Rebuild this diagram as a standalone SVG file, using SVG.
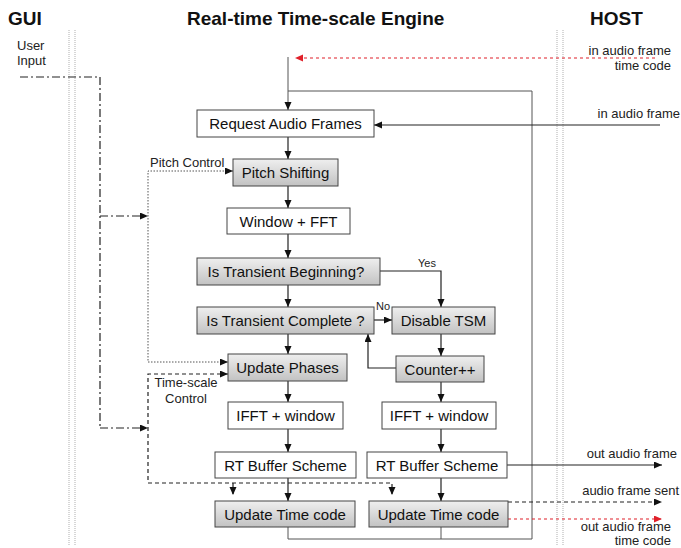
<svg xmlns="http://www.w3.org/2000/svg" width="681" height="548" viewBox="0 0 681 548">
  <style>
    text { font-family: "Liberation Sans", Arial, sans-serif; fill: #111; }
    .title { font-size: 19px; font-weight: bold; }
    .lbl { font-size: 15px; text-anchor: middle; }
    .sm { font-size: 13px; fill: #222; }
    .xs { font-size: 11px; fill: #222; }
    .box { stroke: #444; stroke-width: 1; fill: #fff; }
    .gbox { stroke: #444; stroke-width: 1; fill: url(#grayFill); }
    .sep { stroke: #bdbdbd; stroke-width: 1.2; stroke-dasharray: 1 1; fill: none; }
    .flow { stroke: #222; stroke-width: 1.2; fill: none; }
    .loop { stroke: #555; stroke-width: 1; fill: none; }
    .dashdot { stroke: #222; stroke-width: 1.2; stroke-dasharray: 8 3 2 3; fill: none; }
    .dotted { stroke: #555; stroke-width: 1; stroke-dasharray: 1.5 1.5; fill: none; }
    .dashed { stroke: #222; stroke-width: 1.2; stroke-dasharray: 4 3; fill: none; }
    .red { stroke: #e0202a; stroke-width: 1.2; stroke-dasharray: 3 3; fill: none; }
  </style>
  <defs>
    <linearGradient id="grayFill" x1="0" y1="0" x2="0" y2="1">
      <stop offset="0" stop-color="#efefef"/>
      <stop offset="1" stop-color="#c2c2c2"/>
    </linearGradient>
    <marker id="arr" markerUnits="userSpaceOnUse" markerWidth="9" markerHeight="8" refX="8" refY="3.5" orient="auto">
      <path d="M0,0 L8,3.5 L0,7 z" fill="#111"/>
    </marker>
    <marker id="arrRed" markerUnits="userSpaceOnUse" markerWidth="9" markerHeight="8" refX="8" refY="3.5" orient="auto">
      <path d="M0,0 L8,3.5 L0,7 z" fill="#e0202a"/>
    </marker>
  </defs>

  <rect width="681" height="548" fill="#fff"/>

  <!-- lane headings and separators -->
  <g id="lanes">
    <text class="title" x="8" y="25">GUI</text>
    <text class="title" x="187" y="25">Real-time Time-scale Engine</text>
    <text class="title" x="590" y="25">HOST</text>
    <line class="sep" x1="69" y1="30" x2="69" y2="546"/>
    <line class="sep" x1="75" y1="30" x2="75" y2="546"/>
    <line class="sep" x1="557" y1="30" x2="557" y2="546"/>
    <line class="sep" x1="563" y1="30" x2="563" y2="546"/>
  </g>

  <!-- connectors -->
  <g id="connectors">
    <!-- engine loop -->
    <line class="loop" x1="288" y1="57" x2="288" y2="110" marker-end="url(#arr)"/>
    <polyline class="loop" points="288,91 532,91 532,539 288,539"/>
    <line class="loop" x1="288" y1="527" x2="288" y2="539"/>
    <line class="loop" x1="441" y1="527" x2="441" y2="539"/>

    <!-- host inputs -->
    <line class="red" x1="655" y1="58" x2="295" y2="58" marker-end="url(#arrRed)"/>
    <line class="flow" x1="660" y1="125" x2="374" y2="125" marker-end="url(#arr)"/>

    <!-- main column -->
    <line class="flow" x1="288" y1="137" x2="288" y2="159" marker-end="url(#arr)"/>
    <line class="flow" x1="288" y1="186" x2="288" y2="208" marker-end="url(#arr)"/>
    <line class="flow" x1="288" y1="234" x2="288" y2="258" marker-end="url(#arr)"/>
    <line class="flow" x1="288" y1="285" x2="288" y2="307" marker-end="url(#arr)"/>
    <line class="flow" x1="288" y1="334" x2="288" y2="354" marker-end="url(#arr)"/>
    <line class="flow" x1="288" y1="381" x2="288" y2="402" marker-end="url(#arr)"/>
    <line class="flow" x1="288" y1="429" x2="288" y2="452" marker-end="url(#arr)"/>
    <line class="flow" x1="288" y1="478" x2="288" y2="501" marker-end="url(#arr)"/>

    <!-- transient branch -->
    <polyline class="flow" points="380,271 441,271 441,307" marker-end="url(#arr)"/>
    <line class="flow" x1="374" y1="320" x2="392" y2="320" marker-end="url(#arr)"/>
    <line class="flow" x1="441" y1="334" x2="441" y2="356" marker-end="url(#arr)"/>
    <polyline class="flow" points="396,368 368,368 368,334" marker-end="url(#arr)"/>
    <line class="flow" x1="441" y1="382" x2="441" y2="402" marker-end="url(#arr)"/>
    <line class="flow" x1="441" y1="429" x2="441" y2="452" marker-end="url(#arr)"/>
    <line class="flow" x1="441" y1="478" x2="441" y2="501" marker-end="url(#arr)"/>

    <!-- user input -->
    <polyline class="dashdot" points="20,77 100,77 100,428"/>
    <line class="dashdot" x1="100" y1="216" x2="148" y2="216" marker-end="url(#arr)"/>
    <line class="dashdot" x1="100" y1="428" x2="148" y2="428" marker-end="url(#arr)"/>

    <!-- pitch control -->
    <polyline class="dotted" points="233,171 148,171 148,362 228,362"/>
    <line x1="226" y1="171" x2="233" y2="171" stroke="none" marker-end="url(#arr)"/>
    <line x1="221" y1="362" x2="228" y2="362" stroke="none" marker-end="url(#arr)"/>

    <!-- time-scale control -->
    <polyline class="dashed" points="228,374 148,374 148,483 392,483 392,494"/>
    <line x1="221" y1="374" x2="228" y2="374" stroke="none" marker-end="url(#arr)"/>
    <line x1="392" y1="487" x2="392" y2="495" stroke="none" marker-end="url(#arr)"/>
    <line class="dashed" x1="233" y1="483" x2="233" y2="494"/>
    <line x1="233" y1="487" x2="233" y2="495" stroke="none" marker-end="url(#arr)"/>

    <!-- host outputs -->
    <line class="flow" x1="507" y1="465" x2="662" y2="465" marker-end="url(#arr)"/>
    <line class="dashed" x1="508" y1="502" x2="662" y2="502" marker-end="url(#arr)"/>
    <line class="red" x1="508" y1="519" x2="662" y2="519" marker-end="url(#arrRed)"/>
  </g>

  <!-- connector and lane labels -->
  <g id="labels">
    <text class="sm" x="17" y="50">User</text>
    <text class="sm" x="17" y="65">Input</text>
    <text class="sm" x="150" y="167">Pitch Control</text>
    <text class="sm" x="186" y="387" text-anchor="middle">Time-scale</text>
    <text class="sm" x="186" y="403" text-anchor="middle">Control</text>
    <text class="xs" x="418" y="267">Yes</text>
    <text class="xs" x="376" y="310">No</text>
    <text class="sm" x="671" y="55" text-anchor="end">in audio frame</text>
    <text class="sm" x="671" y="70" text-anchor="end">time code</text>
    <text class="sm" x="680" y="118" text-anchor="end">in audio frame</text>
    <text class="sm" x="677" y="458" text-anchor="end">out audio frame</text>
    <text class="sm" x="679" y="495" text-anchor="end">audio frame sent</text>
    <text class="sm" x="671" y="531" text-anchor="end">out audio frame</text>
    <text class="sm" x="671" y="544.5" text-anchor="end">time code</text>
  </g>

  <!-- nodes -->
  <g id="request-audio-frames">
    <rect class="box" x="197" y="110" width="177" height="27"/>
    <text class="lbl" x="285.5" y="129">Request Audio Frames</text>
  </g>
  <g id="pitch-shifting">
    <rect class="gbox" x="233" y="159" width="105" height="27"/>
    <text class="lbl" x="285.5" y="178">Pitch Shifting</text>
  </g>
  <g id="window-fft">
    <rect class="box" x="227" y="208" width="123" height="26"/>
    <text class="lbl" x="288.5" y="226.5">Window + FFT</text>
  </g>
  <g id="transient-beginning">
    <rect class="gbox" x="197" y="258" width="183" height="27"/>
    <text class="lbl" x="286" y="277">Is Transient Beginning?</text>
  </g>
  <g id="transient-complete">
    <rect class="gbox" x="197" y="307" width="177" height="27"/>
    <text class="lbl" x="285.5" y="326">Is Transient Complete ?</text>
  </g>
  <g id="disable-tsm">
    <rect class="gbox" x="392" y="307" width="103" height="27"/>
    <text class="lbl" x="443.5" y="326">Disable TSM</text>
  </g>
  <g id="update-phases">
    <rect class="gbox" x="228" y="354" width="119" height="27"/>
    <text class="lbl" x="287.5" y="373">Update Phases</text>
  </g>
  <g id="counter">
    <rect class="gbox" x="396" y="356" width="88" height="26"/>
    <text class="lbl" x="440" y="374.5">Counter++</text>
  </g>
  <g id="ifft-window-main">
    <rect class="box" x="228" y="402" width="115" height="27"/>
    <text class="lbl" x="285.5" y="421">IFFT + window</text>
  </g>
  <g id="ifft-window-transient">
    <rect class="box" x="382" y="402" width="114" height="27"/>
    <text class="lbl" x="439" y="421">IFFT + window</text>
  </g>
  <g id="rt-buffer-main">
    <rect class="box" x="215" y="452" width="141" height="26"/>
    <text class="lbl" x="285.5" y="470.5">RT Buffer Scheme</text>
  </g>
  <g id="rt-buffer-transient">
    <rect class="box" x="367" y="452" width="140" height="26"/>
    <text class="lbl" x="437" y="470.5">RT Buffer Scheme</text>
  </g>
  <g id="update-time-code-main">
    <rect class="gbox" x="215" y="501" width="140" height="26"/>
    <text class="lbl" x="285" y="519.5">Update Time code</text>
  </g>
  <g id="update-time-code-transient">
    <rect class="gbox" x="369" y="501" width="139" height="26"/>
    <text class="lbl" x="438.5" y="519.5">Update Time code</text>
  </g>
</svg>
